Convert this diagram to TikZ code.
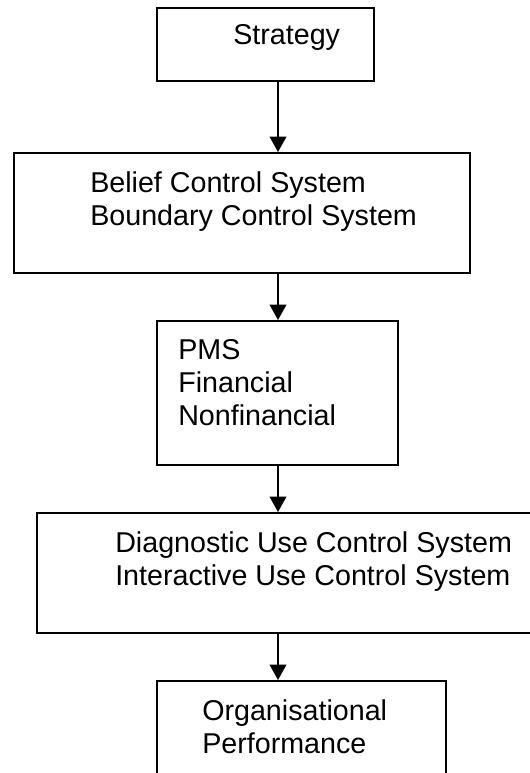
\documentclass[tikz,border=0pt]{standalone}
\usepackage{fontspec}
\setmainfont{Liberation Sans}
\usetikzlibrary{arrows.meta}

\begin{document}
\begin{tikzpicture}[x=0.75pt,y=-0.75pt,
		box/.style={draw,line width=1.2pt,anchor=north west,inner sep=0pt},
		txt/.style={anchor=north west,inner sep=0pt,align=left,font=\fontsize{21.5}{24.75}\selectfont},
		arr/.style={line width=1.2pt,-{Triangle[length=11.5pt,width=12.5pt]}}]
		% page size, lower boxes run off the page
		\useasboundingbox (0,0) rectangle (530,773);
		\clip (0,0) rectangle (530,773);
		
		% the boxes
		\node[box,minimum width=162.75pt,minimum height=54.75pt] (strategy) at (156,7) {};
		\node[box,minimum width=342pt,minimum height=90pt] (levers) at (13,152) {};
		\node[box,minimum width=180.75pt,minimum height=108pt] (pms) at (156,320) {};
		\node[box,minimum width=393pt,minimum height=90pt] (use) at (36,512) {};
		\node[box,minimum width=216.75pt,minimum height=90pt] (perf) at (156,680) {};
		
		% texts in the boxes
		\node[txt] (strategy-txt) at (233,24) {Strategy};
		\node[txt] (levers-txt) at (90,171) {Belief Control System\\Boundary Control System};
		\node[txt] (pms-txt) at (178,339) {PMS\\Financial\\Nonfinancial};
		\node[txt] (use-txt) at (115,531) {Diagnostic Use Control System\\Interactive Use Control System};
		\node[txt] (perf-txt) at (202,699) {Organisational\\Performance};
		
		% arrows down the middle
		\coordinate (spine) at (278,0);
		\draw[arr] (strategy.south -| spine) -- (levers.north -| spine);
		\draw[arr] (levers.south -| spine) -- (pms.north -| spine);
		\draw[arr] (pms.south -| spine) -- (use.north -| spine);
		\draw[arr] (use.south -| spine) -- (perf.north -| spine);
		
\end{tikzpicture}
\end{document}
